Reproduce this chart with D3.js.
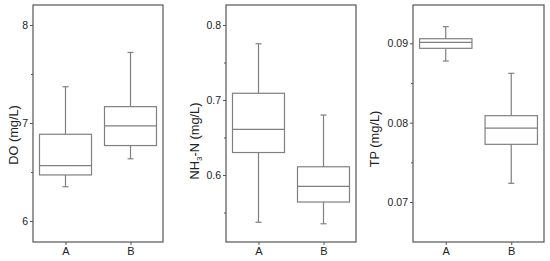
<!DOCTYPE html>
<html><head><meta charset="utf-8">
<script src="https://cdn.jsdelivr.net/npm/d3@7"></script>
<style>body{margin:0;background:#fff}svg{display:block}text{font-family:"Liberation Sans",Arial,sans-serif;fill:#222}</style>
</head><body><svg id="c" width="550" height="261"></svg>
<script>
const categories = ["A", "B"];
// [lower whisker, Q1, median, Q3, upper whisker]
const doStats  = [[6.35, 6.47, 6.565, 6.885, 7.37], [6.635, 6.77, 6.97, 7.167, 7.72]];
const nhStats  = [[0.537, 0.630, 0.661, 0.709, 0.775], [0.535, 0.564, 0.585, 0.611, 0.680]];
const tpStats  = [[0.08777, 0.08937, 0.09013, 0.09058, 0.0921], [0.07236, 0.07727, 0.0793, 0.08088, 0.08622]];
const doTicks = [6, 7, 8], doMinor = [6.5, 7.5];
const nhTicks = [0.6, 0.7, 0.8], nhMinor = [0.55, 0.65, 0.75];
const tpTicks = [0.07, 0.08, 0.09], tpMinor = [0.075, 0.085];

const panels = [
  {stats: doStats, ticks: doTicks, minor: doMinor, domain: [5.786, 8.204], left: 33, right: 163, fmt: d3.format("d"), title: "DO (mg/L)", tx: 14, ty: 135},
  {stats: nhStats, ticks: nhTicks, minor: nhMinor, domain: [0.5107, 0.8267], left: 226, right: 356, fmt: d3.format(".1f"), title: "NH3", tx: 195, ty: 141},
  {stats: tpStats, ticks: tpTicks, minor: tpMinor, domain: [0.06496, 0.09483], left: 413, right: 544, fmt: d3.format(".2f"), title: "TP (mg/L)", tx: 375, ty: 139}
];
const plotTop = 5, plotBottom = 242;
const svg = d3.select("#c");
const boxColor = "#808080", frameColor = "#555";

panels.forEach((p, i) => {
  const x = d3.scalePoint().domain(categories).range([p.left, p.right]).padding(0.5);
  const y = d3.scaleLinear().domain(p.domain).range([plotBottom, plotTop]);
  const g = svg.append("g");
  const bw = (p.right - p.left) * 0.4;

  const ya = g.append("g").attr("transform", `translate(${p.left},0)`)
    .call(d3.axisLeft(y).tickValues(p.ticks).tickFormat(p.fmt).tickSize(3).tickPadding(2));
  ya.select(".domain").remove();
  ya.selectAll("line").attr("stroke", frameColor);
  ya.selectAll("text").attr("font-size", 10.5).style("fill", "#222");
  const ym = g.append("g").attr("transform", `translate(${p.left},0)`)
    .call(d3.axisLeft(y).tickValues(p.minor).tickFormat("").tickSize(2));
  ym.select(".domain").remove();
  ym.selectAll("line").attr("stroke", frameColor);

  const xa = g.append("g").attr("transform", `translate(0,${plotBottom})`)
    .call(d3.axisBottom(x).tickSize(3).tickPadding(2));
  xa.select(".domain").remove();
  xa.selectAll("line").attr("stroke", frameColor);
  xa.selectAll("text").attr("font-size", 11).style("fill", "#222");

  g.append("rect").attr("x", p.left).attr("y", plotTop).attr("width", p.right - p.left).attr("height", plotBottom - plotTop)
    .attr("fill", "none").attr("stroke", frameColor).attr("stroke-width", 1.2);

  p.stats.forEach((s, j) => {
    const cx = x(categories[j]);
    const bg = g.append("g").attr("stroke", boxColor).attr("stroke-width", 1.2).attr("fill", "none");
    bg.append("line").attr("x1", cx).attr("x2", cx).attr("y1", y(s[0])).attr("y2", y(s[1]));
    bg.append("line").attr("x1", cx).attr("x2", cx).attr("y1", y(s[3])).attr("y2", y(s[4]));
    bg.append("line").attr("x1", cx - 3).attr("x2", cx + 3).attr("y1", y(s[0])).attr("y2", y(s[0]));
    bg.append("line").attr("x1", cx - 3).attr("x2", cx + 3).attr("y1", y(s[4])).attr("y2", y(s[4]));
    bg.append("rect").attr("x", cx - bw / 2).attr("width", bw).attr("y", y(s[3])).attr("height", y(s[1]) - y(s[3]));
    bg.append("line").attr("x1", cx - bw / 2).attr("x2", cx + bw / 2).attr("y1", y(s[2])).attr("y2", y(s[2]));
  });

  const t = g.append("text").attr("transform", `translate(${p.tx},${p.ty}) rotate(-90)`)
    .attr("text-anchor", "middle").attr("font-size", 12.8).attr("dy", "0.35em");
  if (i === 1) {
    t.append("tspan").text("NH");
    t.append("tspan").text("3").attr("font-size", 8).attr("dy", 3);
    t.append("tspan").text("-N (mg/L)").attr("dy", -3);
  } else {
    t.text(p.title);
  }
});
</script></body></html>
